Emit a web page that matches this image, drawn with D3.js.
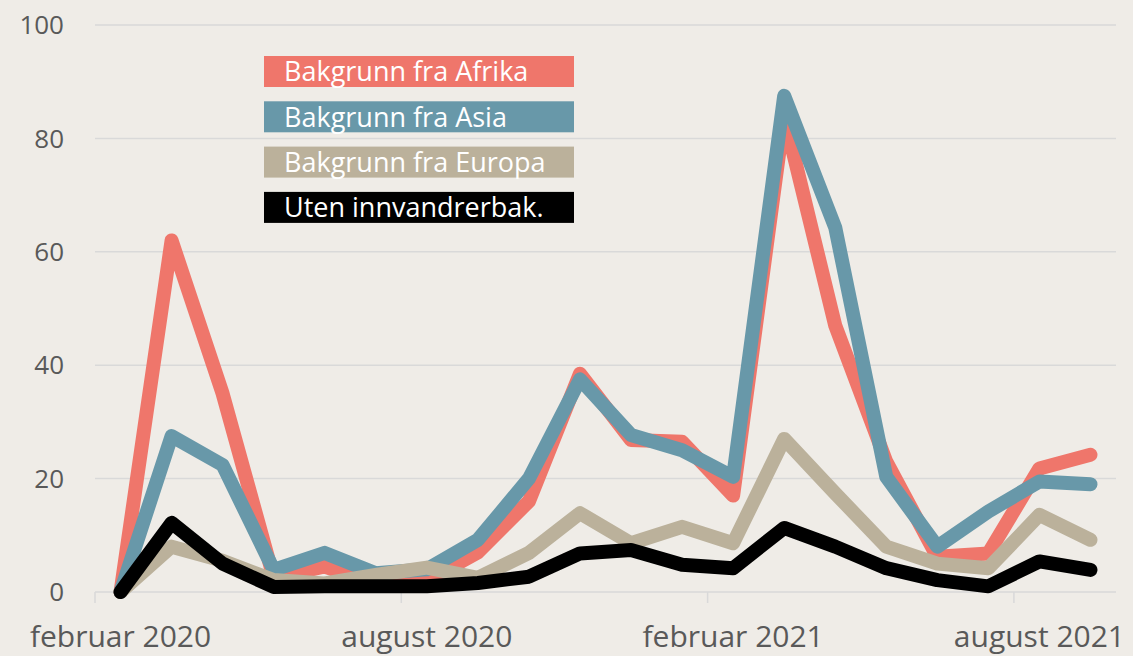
<!DOCTYPE html>
<html>
<head>
<meta charset="utf-8">
<script src="https://cdn.jsdelivr.net/npm/d3@7"></script>
<style>
  body { margin: 0; background: #efece7; }
  svg { display: block; font-family: "Open Sans", sans-serif; }
</style>
</head>
<body>
<svg width="1133" height="656"></svg>
<script>
// months from februar 2020 to september 2021
var months = ["2020-02","2020-03","2020-04","2020-05","2020-06","2020-07","2020-08","2020-09","2020-10","2020-11","2020-12",
              "2021-01","2021-02","2021-03","2021-04","2021-05","2021-06","2021-07","2021-08","2021-09"];
var tickMonths = ["2020-02","2020-08","2021-02","2021-08"];
var tickLabels = ["februar 2020","august 2020","februar 2021","august 2021"];
var yTicks = [0,20,40,60,80,100];

var afrika = [0,62,35,2.5,4.5,1.5,2,7,16,38.5,26.8,26.5,17,84,47,23,6.2,6.8,21.8,24.2];
var asia   = [0,27.5,22.4,3.9,6.9,3.3,4,9.2,20,37.5,27.7,25,20.3,87.5,64.3,20.3,8,14.2,19.5,19];
var europa = [0,8,5.5,2.1,1.5,3,4.3,2.5,6.9,13.9,8.6,11.5,8.6,27,17.4,8,5,4.2,13.6,9.2];
var uten   = [0,12.2,5,0.9,1,1,1,1.6,2.7,6.8,7.4,4.8,4.2,11.3,8,4.2,2.1,1,5.4,3.9];

var seriesNames = ["Bakgrunn fra Afrika","Bakgrunn fra Asia","Bakgrunn fra Europa","Uten innvandrerbak."];
var seriesColors = ["#ef766b","#6898a9","#bbb19b","#000000"];
var seriesData = [afrika, asia, europa, uten];

var svg = d3.select("svg");

var x = d3.scaleBand().domain(months).range([95,1116]);
var y = d3.scaleLinear().domain([0,100]).range([592,25]);

// gridlines
svg.append("g").selectAll("line").data(yTicks).enter().append("line")
    .attr("x1",95).attr("x2",1116)
    .attr("y1",function(d){return y(d);}).attr("y2",function(d){return y(d);})
    .attr("stroke","#d9d9d9").attr("stroke-width",1.5);

// y labels
svg.append("g").selectAll("text").data(yTicks).enter().append("text")
    .attr("x",64).attr("y",function(d){return y(d);})
    .attr("dy","0.35em").attr("text-anchor","end")
    .attr("fill","#595959").style("font-size","26px")
    .text(function(d){return d;});

// x ticks at month start
svg.append("g").selectAll("line").data(tickMonths).enter().append("line")
    .attr("x1",function(d){return x(d);}).attr("x2",function(d){return x(d);})
    .attr("y1",592).attr("y2",603)
    .attr("stroke","#d9d9d9").attr("stroke-width",1.5);

// x labels centered on the month
svg.append("g").selectAll("text").data(tickMonths).enter().append("text")
    .attr("x",function(d){return x(d)+x.bandwidth()/2;}).attr("y",647)
    .attr("text-anchor","middle")
    .attr("fill","#595959").style("font-size","30px")
    .text(function(d,i){return tickLabels[i];});

var line = d3.line()
    .x(function(d,i){return x(months[i])+x.bandwidth()/2;})
    .y(function(d){return y(d);});

svg.append("g").selectAll("path").data(seriesData).enter().append("path")
    .attr("d",line)
    .attr("fill","none")
    .attr("stroke",function(d,i){return seriesColors[i];})
    .attr("stroke-width",14)
    .attr("stroke-linejoin","round")
    .attr("stroke-linecap","round");

// legend
var leg = svg.append("g").selectAll("g").data(seriesNames).enter().append("g")
    .attr("transform",function(d,i){return "translate(264," + (56 + i*45.3) + ")";});
leg.append("rect").attr("width",310).attr("height",31)
    .attr("fill",function(d,i){return seriesColors[i];});
leg.append("text").attr("x",20).attr("y",16).attr("dy","0.35em")
    .attr("fill","#ffffff").style("font-size","27px")
    .text(function(d){return d;});
</script>
</body>
</html>
